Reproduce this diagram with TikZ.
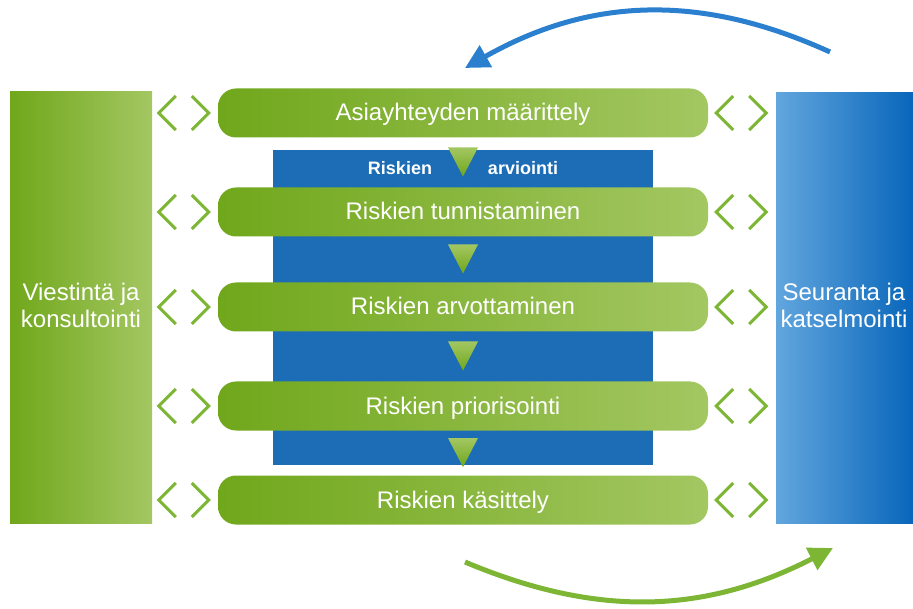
\documentclass[tikz,border=0pt]{standalone}
\usepackage{fontspec}
\setmainfont{Liberation Sans}
\usetikzlibrary{calc,arrows.meta}
\definecolor{grDark}{HTML}{70A71B}
\definecolor{grLight}{HTML}{A3C762}
\definecolor{grLine}{HTML}{7DB535}
\definecolor{blDark}{HTML}{0866BA}
\definecolor{blLight}{HTML}{62A6DE}
\definecolor{blMid}{HTML}{1C6DB6}
\definecolor{blArr}{HTML}{2A80CE}
\def\chevrons(#1){\draw[chev] ($(#1)+(-8,-17)$) -- ($(#1)+(-25,0)$) -- ($(#1)+(-8,17)$);
	\draw[chev] ($(#1)+(8,-17)$) -- ($(#1)+(25,0)$) -- ($(#1)+(8,17)$);}

\begin{document}
\begin{tikzpicture}[x=1pt, y=-1pt,
	bar/.style={rounded corners=18pt, left color=grDark, right color=grLight, text=white,
		minimum width=490pt, minimum height=49pt, inner sep=0pt,
		font=\fontsize{24}{24}\selectfont, text height=19pt, text depth=3pt},
	side/.style={text=white, align=center, inner sep=0pt, font=\fontsize{24}{27}\selectfont},
	chev/.style={line width=3pt, color=grLine},
	tri/.style={top color=grLight, bottom color=grDark},
	small/.style={text=white, font=\fontsize{18}{18}\selectfont\bfseries},
	loop/.style={line width=5pt, -{Triangle[length=24pt,width=24pt]}}]
		%%%%% START %%%%%
		\useasboundingbox (0,0) rectangle (913,609);
		
		% side boxes
		\shade[left color=grDark, right color=grLight] (10,92) rectangle (152,523);
		\node[side] (vk) at (81,305) {Viestintä ja\\konsultointi};
		\shade[left color=blLight, right color=blDark] (776,93) rectangle (913,523);
		\node[side] (sk) at (844,305) {Seuranta ja\\katselmointi};
		
		% riskien arviointi
		\fill[blMid] (273,150) rectangle (653,465);
		\node[small] (ra) at (400,168) {Riskien};
		\node[small] (ar) at (523,168) {arviointi};
		
		\node[bar] (b1) at (463,113) {Asiayhteyden määrittely};
		\node[bar] (b2) at (463,212) {Riskien tunnistaminen};
		\node[bar] (b3) at (463,307) {Riskien arvottaminen};
		\node[bar] (b4) at (463,406) {Riskien priorisointi};
		\node[bar] (b5) at (463,500) {Riskien käsittely};
		
		\foreach \a/\b in {b1/b2,b2/b3,b3/b4,b4/b5} {
			\coordinate (m) at ($(\a.south)!.5!(\b.north)$);
			\shade[tri] ($(m)+(-15,-15)$) -- ($(m)+(15,-15)$) -- ($(m)+(0,14)$) -- cycle;
		}
		
		\foreach \b in {b1,b2,b3,b4,b5} {
			\coordinate (\b-l) at ($(\b.west)+(-34,0)$);
			\coordinate (\b-r) at ($(\b.east)+(33,0)$);
			\chevrons(\b-l)
			\chevrons(\b-r)
		}
		
		% loop arrows
		\coordinate (topS) at (830,52);
		\coordinate (topE) at (465,68);
		\draw[loop, color=blArr] (topS) to[bend right=27] (topE);
		\coordinate (botS) at (465,562);
		\coordinate (botE) at (833,548);
		\draw[loop, color=grLine] (botS) to[bend right=25] (botE);
		%%%%% END %%%%%
	\end{tikzpicture}
\end{document}
